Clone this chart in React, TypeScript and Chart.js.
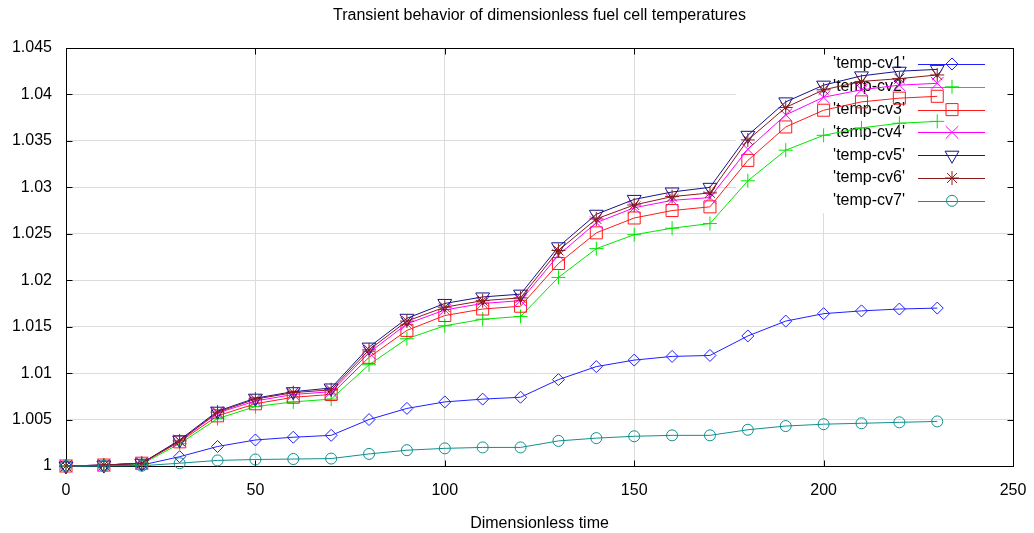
import React, { useEffect, useRef } from 'react';
import { Chart, registerables } from 'chart.js';
import { drawPoint } from 'chart.js/helpers';

Chart.register(...registerables);

const chartTitle = 'Transient behavior of dimensionless fuel cell temperatures';
const xAxisTitle = 'Dimensionless time';

const timeSteps = [0, 10, 20, 30, 40, 50, 60, 70, 80, 90, 100, 110, 120, 130, 140, 150, 160, 170, 180, 190, 200, 210, 220, 230];

const tempCv1 = [1.0, 1.00003, 1.0001, 1.001, 1.0021, 1.0028, 1.0031, 1.0033, 1.005, 1.0062, 1.0069, 1.0072, 1.0074, 1.0093, 1.0107, 1.0114, 1.0118, 1.0119, 1.014, 1.0156, 1.0164, 1.0167, 1.0169, 1.017];
const tempCv2 = [1.0, 1.00005, 1.0002, 1.0024, 1.0051, 1.0064, 1.0069, 1.0072, 1.0109, 1.0137, 1.0151, 1.0158, 1.0161, 1.0203, 1.0234, 1.0249, 1.0256, 1.0261, 1.0307, 1.034, 1.0356, 1.0364, 1.0369, 1.0371];
const tempCv3 = [1.0, 1.0001, 1.0003, 1.0026, 1.0054, 1.0067, 1.0074, 1.0077, 1.0117, 1.0146, 1.0162, 1.0169, 1.0172, 1.0218, 1.0251, 1.0267, 1.0275, 1.0279, 1.0329, 1.0365, 1.0383, 1.0392, 1.0396, 1.0398];
const tempCv4 = [1.0, 1.0001, 1.0003, 1.0027, 1.0057, 1.007, 1.0077, 1.008, 1.0122, 1.0153, 1.0168, 1.0175, 1.0178, 1.0227, 1.0262, 1.0278, 1.0286, 1.0289, 1.0341, 1.0378, 1.0397, 1.0405, 1.041, 1.0412];
const tempCv5 = [1.0, 1.0001, 1.0003, 1.0028, 1.0059, 1.0073, 1.008, 1.0084, 1.0128, 1.0159, 1.0175, 1.0182, 1.0185, 1.0236, 1.0271, 1.0287, 1.0295, 1.03, 1.0356, 1.0392, 1.041, 1.042, 1.0425, 1.0427];
const tempCv6 = [1.0, 1.0001, 1.0003, 1.0027, 1.0058, 1.0072, 1.0079, 1.0082, 1.0125, 1.0156, 1.0171, 1.0178, 1.0181, 1.0232, 1.0266, 1.0281, 1.029, 1.0294, 1.0351, 1.0386, 1.0405, 1.0414, 1.0417, 1.0421];
const tempCv7 = [1.0, 1.0, 1.00003, 1.0003, 1.0006, 1.0007, 1.00075, 1.0008, 1.0013, 1.0017, 1.0019, 1.002, 1.002, 1.0027, 1.003, 1.0032, 1.0033, 1.0033, 1.0039, 1.0043, 1.0045, 1.0046, 1.0047, 1.0048];

const seriesLabels = ["'temp-cv1'", "'temp-cv2'", "'temp-cv3'", "'temp-cv4'", "'temp-cv5'", "'temp-cv6'", "'temp-cv7'"];
const seriesValues = [tempCv1, tempCv2, tempCv3, tempCv4, tempCv5, tempCv6, tempCv7];

const xTickValues = [0, 50, 100, 150, 200, 250];
const yTickValues = [1, 1.005, 1.01, 1.015, 1.02, 1.025, 1.03, 1.035, 1.04, 1.045];

const seriesStyles = [
  { color: '#1f1fff', pointStyle: 'rectRot', radius: 6, rotation: 0 },
  { color: '#00e600', pointStyle: 'cross', radius: 7, rotation: 0 },
  { color: '#ff1a1a', pointStyle: 'rect', radius: 8.5, rotation: 0 },
  { color: '#ff00ff', pointStyle: 'crossRot', radius: 9, rotation: 0 },
  { color: '#14148c', pointStyle: 'triangle', radius: 8, rotation: 180 },
  { color: '#8b1a1a', pointStyle: 'star', radius: 7, rotation: 0 },
  { color: '#0f8f8f', pointStyle: 'circle', radius: 5.5, rotation: 0 },
];

const FONT = '"Liberation Sans", Arial, Helvetica, sans-serif';

const gnuplotFrame = {
  id: 'gnuplotFrame',
  beforeDatasetsDraw(chart: any) {
    const { ctx, chartArea: a, scales } = chart;
    const L = Math.round(a.left) + 0.5;
    const R = Math.round(a.right) + 0.5;
    const T = Math.round(a.top) + 0.5;
    const B = Math.round(a.bottom) + 0.5;
    ctx.save();
    // key background (hides grid)
    ctx.fillStyle = '#ffffff';
    ctx.fillRect(a.right - 277, a.top, 277, 165);

    // frame
    ctx.strokeStyle = '#000000';
    ctx.lineWidth = 1;
    ctx.strokeRect(L, T, R - L, B - T);

    // inward ticks on all sides
    ctx.beginPath();
    const tl = 6;
    xTickValues.forEach((v) => {
      const px = Math.round(scales.x.getPixelForValue(v)) + 0.5;
      ctx.moveTo(px, B); ctx.lineTo(px, B - tl);
      ctx.moveTo(px, T); ctx.lineTo(px, T + tl);
    });
    yTickValues.forEach((v) => {
      const py = Math.round(scales.y.getPixelForValue(v)) + 0.5;
      ctx.moveTo(L, py); ctx.lineTo(L + tl, py);
      ctx.moveTo(R, py); ctx.lineTo(R - tl, py);
    });
    ctx.stroke();

    // title
    ctx.fillStyle = '#000000';
    ctx.font = `16px ${FONT}`;
    ctx.textAlign = 'center';
    ctx.textBaseline = 'middle';
    ctx.fillText(chartTitle, (a.left + a.right) / 2, 16);

    // key
    ctx.font = `16px ${FONT}`;
    ctx.textAlign = 'right';
    seriesLabels.forEach((label, i) => {
      const st = seriesStyles[i];
      const y = a.top + 16 + i * 22.8;
      ctx.fillStyle = '#000000';
      ctx.fillText(label, a.right - 108, y);
      ctx.strokeStyle = st.color;
      ctx.lineWidth = 1;
      ctx.beginPath();
      ctx.moveTo(a.right - 95, Math.round(y) + 0.5);
      ctx.lineTo(a.right - 28, Math.round(y) + 0.5);
      ctx.stroke();
      ctx.fillStyle = 'rgba(0,0,0,0)';
      drawPoint(ctx, { pointStyle: st.pointStyle, radius: st.radius, rotation: st.rotation, borderWidth: 1 } as any, a.right - 61, y);
    });
    ctx.restore();
  },
};

export default function App() {
  const canvasRef = useRef<HTMLCanvasElement | null>(null);

  useEffect(() => {
    document.body.style.margin = '0';
    const canvas = canvasRef.current;
    if (!canvas) return;

    const datasets = seriesLabels.map((label, i) => {
      const st = seriesStyles[i];
      return {
        label,
        data: timeSteps.map((t, j) => ({ x: t, y: seriesValues[i][j] })),
        borderColor: st.color,
        backgroundColor: 'rgba(0,0,0,0)',
        borderWidth: 1,
        pointStyle: st.pointStyle,
        pointRadius: st.radius,
        pointRotation: st.rotation,
        pointBorderColor: st.color,
        pointBackgroundColor: 'rgba(0,0,0,0)',
        pointBorderWidth: 1,
        tension: 0,
        fill: false,
        clip: false,
        order: seriesLabels.length - i,
      };
    });

    const chart = new Chart(canvas, {
      type: 'line',
      data: { datasets } as any,
      options: {
        animation: false,
        responsive: false,
        maintainAspectRatio: false,
        layout: { padding: { top: 48, right: 21, bottom: 0, left: 0 } },
        plugins: {
          legend: { display: false },
          title: { display: false },
          tooltip: { enabled: false },
        },
        scales: {
          x: {
            type: 'linear',
            min: 0,
            max: 250,
            afterBuildTicks: (scale: any) => {
              scale.ticks = xTickValues.map((v) => ({ value: v }));
            },
            afterFit: (scale: any) => {
              scale.height = 67;
              scale.paddingLeft = 0;
              scale.paddingRight = 0;
            },
            grid: { color: '#dcdcdc', lineWidth: 1, drawTicks: false },
            border: { display: false },
            ticks: {
              padding: 15,
              color: '#000000',
              font: { family: FONT, size: 16 },
              maxRotation: 0,
              callback: (v: any) => String(v),
            },
            title: {
              display: true,
              text: xAxisTitle,
              color: '#000000',
              font: { family: FONT, size: 16 },
              padding: { top: 0, bottom: 0 },
            },
          },
          y: {
            type: 'linear',
            min: 1,
            max: 1.045,
            afterBuildTicks: (scale: any) => {
              scale.ticks = yTickValues.map((v) => ({ value: v }));
            },
            afterFit: (scale: any) => {
              scale.width = 66;
              scale.paddingTop = 0;
              scale.paddingBottom = 0;
            },
            grid: { color: '#dcdcdc', lineWidth: 1, drawTicks: false },
            border: { display: false },
            ticks: {
              padding: 14,
              color: '#000000',
              font: { family: FONT, size: 16 },
              callback: (v: any) => String(Number(Number(v).toFixed(3))),
            },
          },
        },
      } as any,
      plugins: [gnuplotFrame],
    });

    return () => {
      chart.destroy();
    };
  }, []);

  return (
    <div style={{ width: 1034, height: 533 }}>
      <canvas ref={canvasRef} width={1034} height={533} style={{ display: 'block' }} />
    </div>
  );
}
